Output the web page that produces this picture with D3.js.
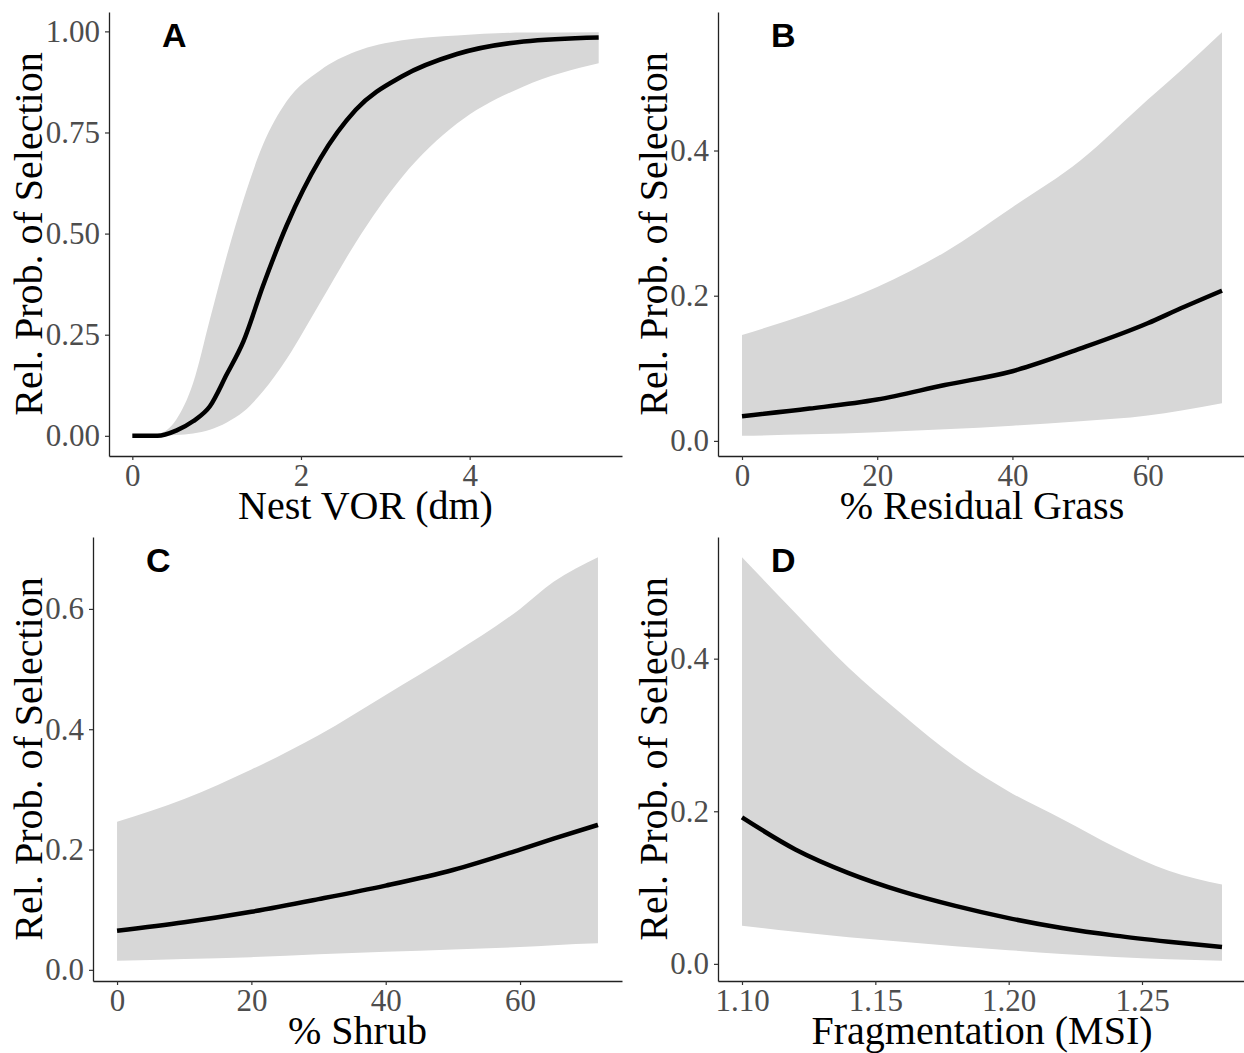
<!DOCTYPE html>
<html>
<head>
<meta charset="utf-8">
<script src="https://cdn.jsdelivr.net/npm/d3@7"></script>
<style>
  body { margin: 0; background: #fff; }
  svg { display: block; }
  .tick text { font-family: "Liberation Serif", "Times New Roman", serif; font-size: 31px; fill: #4d4d4d; }
  .tick line { stroke: #333; stroke-width: 1.2; }
  .domain { stroke: #222; stroke-width: 1.3; }
  .title { font-family: "Liberation Serif", "Times New Roman", serif; font-size: 40px; fill: #000; }
  .letter { font-family: "Liberation Sans", Arial, sans-serif; font-size: 34px; font-weight: bold; fill: #000; }
</style>
</head>
<body>
<svg id="chart" width="1244" height="1053"></svg>
<script>
// A - nest VOR
var vorX     = [0, 0.3, 0.52, 0.72, 0.92, 1.12, 1.32, 1.55, 1.83, 2.23, 2.65, 3.2, 3.85, 4.64, 5.53];
var vorFit   = [0, 0, 0.013, 0.036, 0.073, 0.152, 0.235, 0.371, 0.52, 0.686, 0.806, 0.889, 0.944, 0.975, 0.985];
var vorUpper = [0, 0.005, 0.04, 0.13, 0.288, 0.445, 0.585, 0.72, 0.827, 0.904, 0.95, 0.978, 0.99, 0.997, 0.998];
var vorLower = [0, 0, 0.002, 0.006, 0.015, 0.033, 0.06, 0.11, 0.19, 0.33, 0.478, 0.64, 0.772, 0.864, 0.921];

// B - residual grass
var grassX     = [0, 10, 20, 30, 40, 50, 60, 65, 71];
var grassFit   = [0.034, 0.0445, 0.057, 0.077, 0.096, 0.127, 0.162, 0.183, 0.207];
var grassUpper = [0.146, 0.176, 0.212, 0.26, 0.322, 0.386, 0.47, 0.511, 0.563];
var grassLower = [0.007, 0.009, 0.012, 0.016, 0.021, 0.027, 0.035, 0.042, 0.052];

// C - shrub
var shrubX     = [0, 10, 20, 30, 40, 50, 60, 65, 71.6];
var shrubFit   = [0.065, 0.079, 0.0965, 0.1175, 0.14, 0.166, 0.2, 0.218, 0.241];
var shrubUpper = [0.246, 0.284, 0.333, 0.39, 0.457, 0.525, 0.6, 0.645, 0.686];
var shrubLower = [0.015, 0.018, 0.021, 0.026, 0.03, 0.034, 0.038, 0.041, 0.044];

// D - fragmentation
var msiX     = [1.10, 1.12, 1.14, 1.16, 1.18, 1.20, 1.22, 1.24, 1.26, 1.28];
var msiFit   = [0.192, 0.150, 0.119, 0.095, 0.076, 0.060, 0.047, 0.037, 0.029, 0.022];
var msiUpper = [0.533, 0.46, 0.388, 0.327, 0.271, 0.226, 0.19, 0.153, 0.122, 0.104];
var msiLower = [0.05, 0.042, 0.035, 0.029, 0.023, 0.018, 0.013, 0.009, 0.006, 0.004];

var panelLetters = ["A", "B", "C", "D"];
var xTitles = ["Nest VOR (dm)", "% Residual Grass", "% Shrub", "Fragmentation (MSI)"];
var yTitle = "Rel. Prob. of Selection";
var xTickVals = [[0, 2, 4], [0, 20, 40, 60], [0, 20, 40, 60], [1.10, 1.15, 1.20, 1.25]];
var yTickVals = [[0, 0.25, 0.5, 0.75, 1], [0, 0.2, 0.4], [0, 0.2, 0.4, 0.6], [0, 0.2, 0.4]];

var panels = [
  {x: vorX, fit: vorFit, up: vorUpper, lo: vorLower, box: [109, 622, 12, 456], off: 0,
   xf: d3.format("d"), yf: d3.format(".2f")},
  {x: grassX, fit: grassFit, up: grassUpper, lo: grassLower, box: [718, 1246, 12, 456], off: 625,
   xf: d3.format("d"), yf: d3.format(".1f")},
  {x: shrubX, fit: shrubFit, up: shrubUpper, lo: shrubLower, box: [93, 622, 537, 981], off: 0,
   xf: d3.format("d"), yf: d3.format(".1f")},
  {x: msiX, fit: msiFit, up: msiUpper, lo: msiLower, box: [718, 1246, 537, 981], off: 625,
   xf: d3.format(".2f"), yf: d3.format(".1f")}
];

var svg = d3.select("#chart");

// ggplot style 5% padding
function padded(lo, hi) {
  var s = hi - lo;
  return [lo - 0.05 * s, hi + 0.05 * s];
}

panels.forEach(function(p, i) {
  var left = p.box[0], right = p.box[1], top = p.box[2], bottom = p.box[3];
  var rows = p.x.map(function(v, k) {
    return {x: v, fit: p.fit[k], up: p.up[k], lo: p.lo[k]};
  });

  var x = d3.scaleLinear().domain(padded(d3.min(p.x), d3.max(p.x))).range([left, right]);
  var y = d3.scaleLinear().domain(padded(d3.min(p.lo), d3.max(p.up))).range([bottom, top]);

  var g = svg.append("g");

  g.append("path")
    .datum(rows)
    .attr("fill", "#d7d7d7")
    .attr("d", d3.area()
      .curve(d3.curveMonotoneX)
      .x(function(d) { return x(d.x); })
      .y0(function(d) { return y(d.lo); })
      .y1(function(d) { return y(d.up); }));

  g.append("path")
    .datum(rows)
    .attr("fill", "none")
    .attr("stroke", "#000")
    .attr("stroke-width", 4.5)
    .attr("d", d3.line()
      .curve(d3.curveMonotoneX)
      .x(function(d) { return x(d.x); })
      .y(function(d) { return y(d.fit); }));

  g.append("g")
    .attr("transform", "translate(0," + bottom + ")")
    .call(d3.axisBottom(x).tickValues(xTickVals[i]).tickFormat(p.xf)
      .tickSize(4).tickSizeOuter(0).tickPadding(4));

  g.append("g")
    .attr("transform", "translate(" + left + ",0)")
    .call(d3.axisLeft(y).tickValues(yTickVals[i]).tickFormat(p.yf)
      .tickSize(4).tickSizeOuter(0).tickPadding(5));

  g.append("text")
    .attr("class", "title")
    .attr("x", (left + right) / 2)
    .attr("y", bottom + 63)
    .attr("text-anchor", "middle")
    .text(xTitles[i]);

  g.append("text")
    .attr("class", "title")
    .attr("transform", "translate(" + (p.off + 42) + "," + ((top + bottom) / 2) + ") rotate(-90)")
    .attr("text-anchor", "middle")
    .text(yTitle);

  g.append("text")
    .attr("class", "letter")
    .attr("x", left + 53)
    .attr("y", top + 35)
    .text(panelLetters[i]);
});
</script>
</body>
</html>
